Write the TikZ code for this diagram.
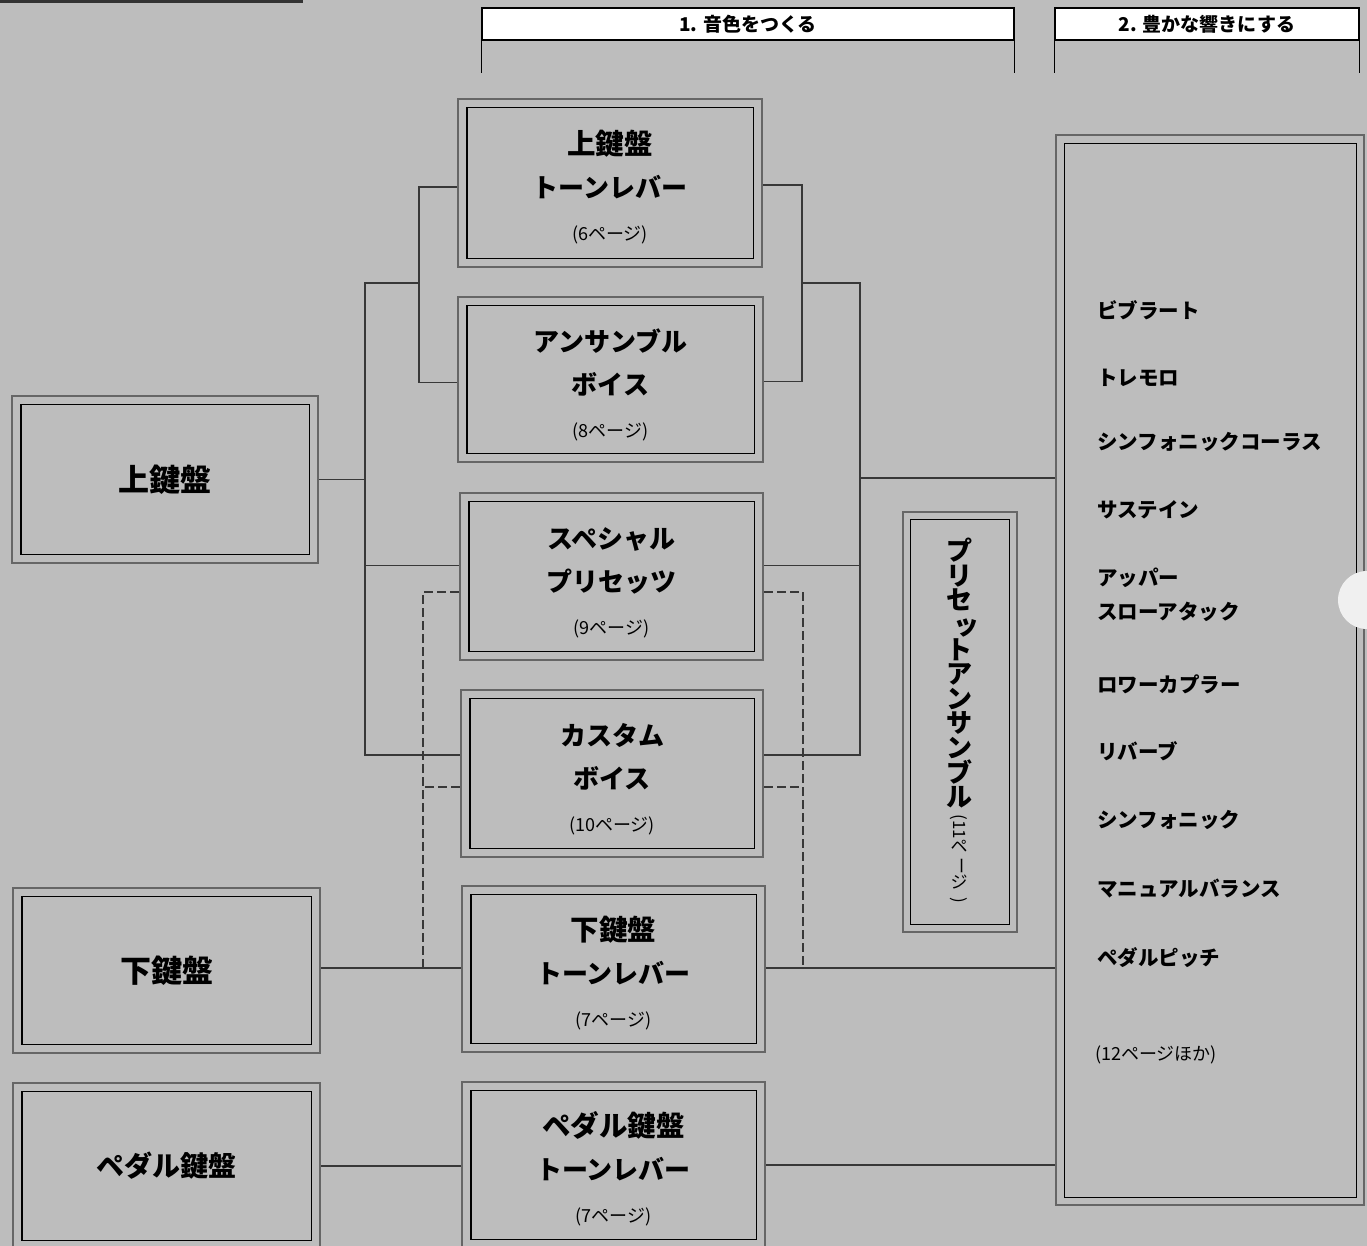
\documentclass[tikz,border=0pt]{standalone}
\usepackage{fontspec}
\usepackage{graphicx}
\setmainfont{Noto Sans CJK JP}
\usetikzlibrary{calc}
\definecolor{bg}{gray}{0.74}
\definecolor{framegray}{gray}{0.40}
\definecolor{linegray}{gray}{0.22}
\newcommand\pgref[1]{{\fontsize{18}{43}\selectfont\mdseries #1}}
\newcommand\firstln[1]{\rule{0pt}{33pt}#1}
\newcommand\bigln[1]{\rule{0pt}{33pt}{\fontsize{28.5}{43}\selectfont #1}}
\begin{document}
\begin{tikzpicture}[x=1pt,y=-1pt,
  kbox/.style={draw=framegray, line width=2.4pt, inner sep=0pt, align=center,
    font=\fontsize{26}{43}\selectfont\bfseries},
  innerframe/.style={draw=black, line width=1.5pt},
  conn/.style={draw=linegray, line width=1.6pt},
  dashconn/.style={draw=linegray, line width=2pt, dash pattern=on 9pt off 4pt},
  hdr/.style={draw=black, line width=1.3pt, fill=white, inner sep=0pt,
    font=\fontsize{19}{19}\selectfont\bfseries},
  hleg/.style={draw=black, line width=1.5pt},
  item/.style={anchor=west, inner sep=0pt, align=left,
    font=\fontsize{20.5}{34}\selectfont\bfseries}]
\useasboundingbox (0,0) rectangle (1367,1246);
\clip (0,0) rectangle (1367,1246);
\fill[bg] (0,0) rectangle (1367,1246);
\fill[gray!40!black] (0,0) rectangle (303,3.5);

% headers
\node[hdr, minimum width=532, minimum height=32] (h1) at (748,24) {1. 音色をつくる};
\node[hdr, minimum width=304, minimum height=32] (h2) at (1207,24) {2. 豊かな響きにする};
\draw[hleg] (h1.south west) -- ++(0,32);
\draw[hleg] (h1.south east) -- ++(0,32);
\draw[hleg] (h2.south west) -- ++(0,32);
\draw[hleg] (h2.south east) -- ++(0,32);

% left keyboards
\node[kbox, minimum width=306, minimum height=167, font=\fontsize{31}{43}\selectfont\bfseries] (lk) at (165,479.5) {上鍵盤};
\node[kbox, minimum width=307, minimum height=165, font=\fontsize{31}{43}\selectfont\bfseries] (lo) at (166.5,970.5) {下鍵盤};
\node[kbox, minimum width=307, minimum height=166, font=\fontsize{28}{43}\selectfont\bfseries] (lp) at (166.5,1166) {ペダル鍵盤};

% middle column
\node[kbox, minimum width=304, minimum height=168] (b1) at (610,183) {\bigln{上鍵盤}\\トーンレバー\\\pgref{(6ページ)}};
\node[kbox, minimum width=305, minimum height=165] (b2) at (610.5,379.5) {\firstln{アンサンブル}\\ボイス\\\pgref{(8ページ)}};
\node[kbox, minimum width=303, minimum height=167] (b3) at (611.5,576.5) {\firstln{スペシャル}\\プリセッツ\\\pgref{(9ページ)}};
\node[kbox, minimum width=302, minimum height=167] (b4) at (612,773.5) {\firstln{カスタム}\\ボイス\\\pgref{(10ページ)}};
\node[kbox, minimum width=303, minimum height=166] (b5) at (613.5,969) {\bigln{下鍵盤}\\トーンレバー\\\pgref{(7ページ)}};
\node[kbox, minimum width=303, minimum height=166] (b6) at (613.5,1165) {\bigln{ペダル鍵盤}\\トーンレバー\\\pgref{(7ページ)}};

% preset ensemble
\node[draw=framegray, line width=2.4pt, minimum width=114, minimum height=420, inner sep=0pt] (pre) at (960,722) {};
\node[align=center, inner sep=0pt, font=\fontsize{26}{24.6}\selectfont\bfseries, anchor=north] (pv1) at (959,538)
  {プ\\リ\\セ\\\hspace*{14pt}ッ\\ト\\ア\\ン\\サ\\ン\\ブ\\ル};
\node[align=center, inner sep=0pt, font=\fontsize{17}{17}\selectfont, anchor=north] (pv2) at ([yshift=-6pt]pv1.south)
  {\rotatebox[origin=c]{-90}{(11}\\ペ\\\rotatebox[origin=c]{-90}{ー}\\ジ\\\rotatebox[origin=c]{-90}{)}};

% effects box
\node[draw=framegray, line width=2.4pt, minimum width=308, minimum height=1070, inner sep=0pt] (eff) at (1210,670) {};
\node[item] (e1) at (1097,310) {ビブラート};
\node[item] (e2) at (1097,378) {トレモロ};
\node[item] (e3) at (1097,442) {シンフォニックコーラス};
\node[item] (e4) at (1097,510) {サステイン};
\node[item] (e5) at (1097,595) {アッパー\\スローアタック};
\node[item] (e6) at (1097,684) {ロワーカプラー};
\node[item] (e7) at (1097,751) {リバーブ};
\node[item] (e8) at (1097,820) {シンフォニック};
\node[item] (e9) at (1097,889) {マニュアルバランス};
\node[item] (e10) at (1097,958) {ペダルピッチ};
\node[item, font=\fontsize{18}{18}\selectfont] (e11) at (1095,1055) {(12ページほか)};

% inner frames
\foreach \n in {lk,lo,lp,b1,b2,b3,b4,b5,b6}{
  \draw[innerframe] ($(\n.north west)+(10,9.5)$) rectangle ($(\n.south east)+(-9.5,-9.5)$);
}
\draw[innerframe] ($(pre.north west)+(8.5,8.5)$) rectangle ($(pre.south east)+(-8.5,-8.5)$);
\draw[innerframe] ($(eff.north west)+(9.5,9.5)$) rectangle ($(eff.south east)+(-8.5,-8.5)$);

% connectors: left bracket
\coordinate (lt) at (419,283);
\coordinate (L1) at (365,283);
\coordinate (L2) at (365,755);
\coordinate (b3ws) at ([yshift=11pt]b3.west);
\coordinate (b4ws) at ([yshift=18.5pt]b4.west);
\draw[conn] ([yshift=-4pt]b1.west) -| (lt) |- ([yshift=-3pt]b2.west);
\draw[conn] (lt) -- (L1) -- (L2) -- (b4ws);
\draw[conn] (b3ws) -- (b3ws -| L1);
\draw[conn] (lk.east) -- (lk.east -| L1);

% right bracket
\coordinate (rt) at (802,283);
\coordinate (R1) at (860,283);
\coordinate (R2) at (860,755);
\coordinate (R3) at (860,478);
\coordinate (b3es) at ([yshift=11pt]b3.east);
\coordinate (b4es) at ([yshift=18.5pt]b4.east);
\draw[conn] ([yshift=-2pt]b1.east) -| (rt) |- ([yshift=-2pt]b2.east);
\draw[conn] (rt) -- (R1) -- (R2) -- (b4es);
\draw[conn] (b3es) -- (b3es -| R1);
\draw[conn] (R3) -- (R3 -| eff.west);

% dashed links
\coordinate (DL) at (423,968);
\coordinate (DR) at (803,968);
\coordinate (b3wd) at ([yshift=-15.5pt]b3.west);
\coordinate (b4wd) at ([yshift=-13.5pt]b4.west);
\coordinate (b3ed) at ([yshift=-15.5pt]b3.east);
\coordinate (b4ed) at ([yshift=-13.5pt]b4.east);
\draw[dashconn] (b3wd) -| (DL);
\draw[dashconn] (b4wd) -- (b4wd -| DL);
\draw[dashconn] (b3ed) -| (DR);
\draw[dashconn] (b4ed) -- (b4ed -| DR);

% lower keyboards
\coordinate (lo1) at (lo.east |- DL);
\draw[conn] (lo1) -- (lo1 -| b5.west);
\coordinate (b5r) at (b5.east |- DR);
\draw[conn] (b5r) -- (b5r -| eff.west);
\draw[conn] (lp.east) -- (lp.east -| b6.west);
\draw[conn] (b6.east) -- (b6.east -| eff.west);

% scan mark at right edge
\fill[gray!12] (1367,600) circle (29);
\end{tikzpicture}
\end{document}
